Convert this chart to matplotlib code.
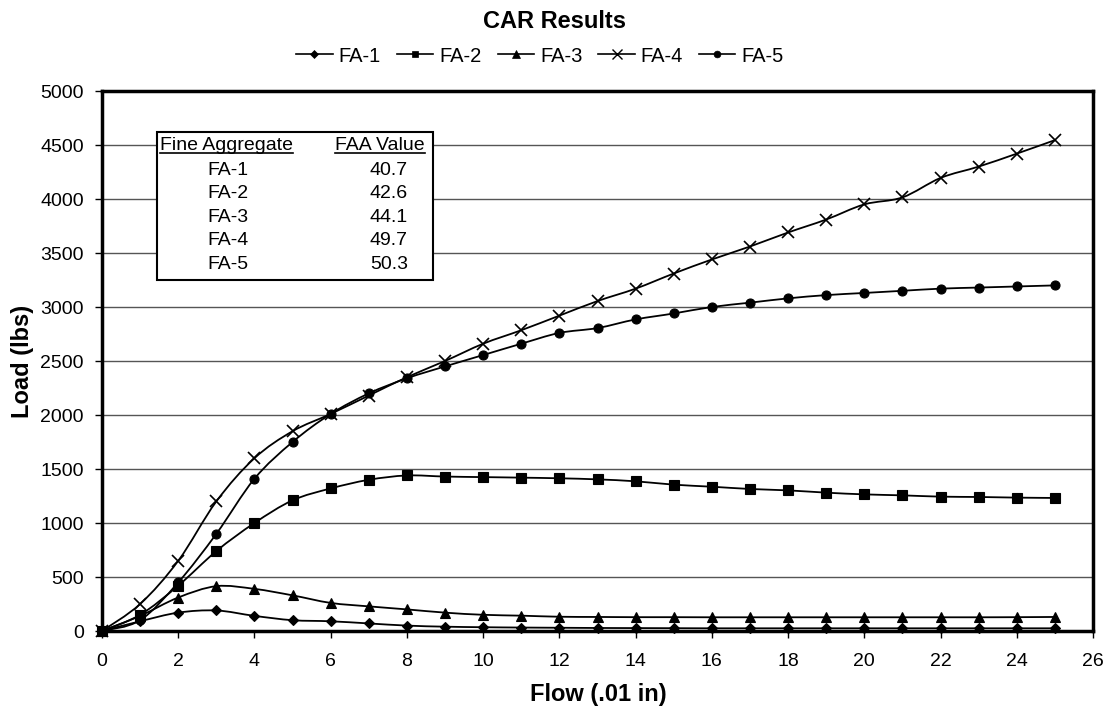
import matplotlib
matplotlib.use("Agg")
import matplotlib.pyplot as plt
from matplotlib.path import Path
from matplotlib.patches import PathPatch, Rectangle
from matplotlib.lines import Line2D

plt.rcParams['font.family'] = ['Liberation Sans', 'DejaVu Sans']

# ======================
# DATOS
# ======================
flow = list(range(0, 26))

fa1 = [0, 90, 170, 190, 140, 100, 90, 70, 50, 40, 35, 32, 30, 28, 27, 26, 25, 25, 25, 25,
       25, 25, 25, 25, 25, 25]
fa2 = [0, 150, 420, 740, 1000, 1210, 1320, 1400, 1440, 1430, 1425, 1420, 1414, 1404, 1386,
       1355, 1336, 1315, 1302, 1281, 1265, 1256, 1244, 1241, 1235, 1232]
fa3 = [0, 140, 310, 415, 390, 330, 260, 228, 200, 170, 150, 142, 132, 130, 128, 128, 127,
       127, 127, 127, 127, 127, 127, 127, 128, 130]
fa4 = [0, 250, 650, 1200, 1600, 1850, 2010, 2180, 2350, 2500, 2660, 2785, 2920, 3055, 3170,
       3310, 3440, 3560, 3690, 3810, 3950, 4015, 4195, 4300, 4420, 4545]
fa5 = [0, 100, 450, 900, 1410, 1750, 2010, 2200, 2340, 2450, 2555, 2660, 2760, 2805, 2885,
       2940, 3000, 3040, 3080, 3110, 3130, 3150, 3170, 3180, 3190, 3200]

series = [fa1, fa2, fa3, fa4, fa5]
names = ["FA-1", "FA-2", "FA-3", "FA-4", "FA-5"]
markers = ["D", "s", "^", "x", "o"]
msizes = [5.5, 6.5, 7, 9, 6.5]

tabla_nombres = ["FA-1", "FA-2", "FA-3", "FA-4", "FA-5"]
tabla_faa = ["40.7", "42.6", "44.1", "49.7", "50.3"]

W, H = 1109, 708


def fx(px):
    return px / W


def fy(py):
    return 1 - py / H


def curva_suave(xs, ys):
    # linea suavizada tipo Excel (Bezier Catmull-Rom)
    pts = list(zip(xs, ys))
    verts = [pts[0]]
    codes = [Path.MOVETO]
    n = len(pts)
    for i in range(n - 1):
        p0 = pts[i - 1] if i > 0 else pts[i]
        p1 = pts[i]
        p2 = pts[i + 1]
        p3 = pts[i + 2] if i + 2 < n else pts[i + 1]
        c1 = (p1[0] + (p2[0] - p0[0]) / 6, p1[1] + (p2[1] - p0[1]) / 6)
        c2 = (p2[0] - (p3[0] - p1[0]) / 6, p2[1] - (p3[1] - p1[1]) / 6)
        verts += [c1, c2, p2]
        codes += [Path.CURVE4] * 3
    return Path(verts, codes)


fig = plt.figure(figsize=(W / 100, H / 100), dpi=100)
ax = fig.add_axes([fx(102), fy(631), (1093 - 102) / W, (631 - 91) / H])

# ======================
# SERIES
# ======================
for ys, name, m, ms in zip(series, names, markers, msizes):
    ax.add_patch(PathPatch(curva_suave(flow, ys), fill=False, edgecolor='black',
                           lw=1.3, zorder=3, clip_on=False))
    ax.plot(flow, ys, linestyle='none', marker=m, ms=ms, color='black',
            markeredgewidth=1.2 if m == 'x' else 0.8, zorder=4, clip_on=False)

ax.set_xlim(0, 26)
ax.set_ylim(0, 5000)
ax.set_xticks(range(0, 27, 2))
ax.set_yticks(range(0, 5001, 500))
ax.tick_params(labelsize=14, length=5, width=1, direction='out')
ax.tick_params(axis='x', pad=11)
ax.tick_params(axis='y', pad=8)
ax.yaxis.grid(True, color='#555555', lw=1)
ax.set_axisbelow(True)
for s in ax.spines.values():
    s.set_linewidth(2.5)

fig.text(fx(598), fy(694), "Flow (.01 in)", ha='center', va='center', fontsize=17,
         fontweight='bold')
fig.text(fx(22), fy(361), "Load (lbs)", ha='center', va='center', fontsize=17,
         fontweight='bold', rotation=90)
fig.text(0.5, fy(22), "CAR Results", ha='center', va='center', fontsize=17,
         fontweight='bold')

# leyenda arriba
handles = [Line2D([], [], color='black', lw=1.2, marker=m, ms=ms * 0.75,
                  markeredgewidth=1 if m == 'x' else 0.5)
           for m, ms in zip(markers, msizes)]
fig.legend(handles, names, loc='center', bbox_to_anchor=(fx(540), fy(56)), ncol=5,
           frameon=False, fontsize=14.5, handlelength=1.8, handletextpad=0.3,
           columnspacing=0.8)

# ======================
# TABLA
# ======================
fig.patches.append(Rectangle((fx(157), fy(280)), (433 - 157) / W, (280 - 132) / H,
                             transform=fig.transFigure, facecolor='white',
                             edgecolor='black', lw=1.5, zorder=5))
cab1 = fig.text(fx(160), fy(149.5), "Fine Aggregate", ha='left', va='baseline',
                fontsize=14, zorder=6)
cab2 = fig.text(fx(425), fy(149.5), "FAA Value", ha='right', va='baseline',
                fontsize=14, zorder=6)
for i, (n, v) in enumerate(zip(tabla_nombres, tabla_faa)):
    y = fy(175 + i * 23.4)
    fig.text(fx(228), y, n, ha='center', va='baseline', fontsize=14, zorder=6)
    fig.text(fx(408), y, v, ha='right', va='baseline', fontsize=14, zorder=6)

# subrayado de los encabezados
fig.canvas.draw()
r = fig.canvas.get_renderer()
for t in (cab1, cab2):
    bb = t.get_window_extent(r)
    fig.lines.append(Line2D([bb.x0 / W, bb.x1 / W], [fy(152.5), fy(152.5)],
                            transform=fig.transFigure, color='black', lw=1.2, zorder=6))

fig.savefig("out.png", dpi=100)
